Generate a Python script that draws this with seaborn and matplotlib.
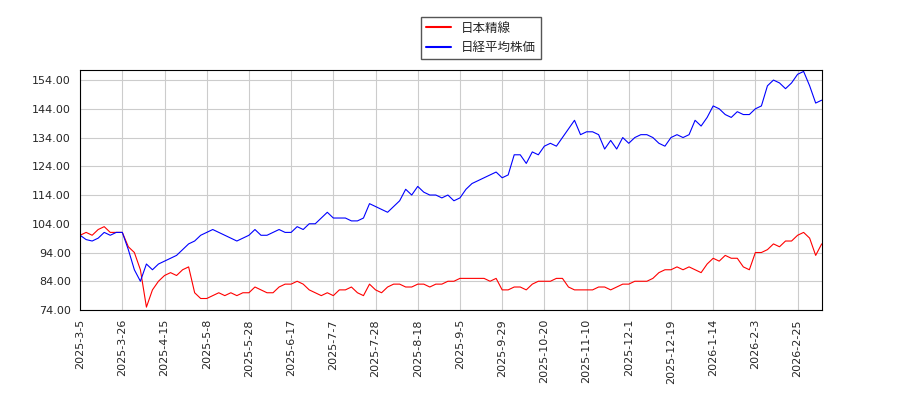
import numpy as np
import pandas as pd
import matplotlib
matplotlib.use("Agg")
import matplotlib.pyplot as plt
import seaborn as sns

tick_labels = ["2025-3-5","2025-3-26","2025-4-15","2025-5-8","2025-5-28","2025-6-17","2025-7-7",
               "2025-7-28","2025-8-18","2025-9-5","2025-9-29","2025-10-20","2025-11-10","2025-12-1",
               "2025-12-19","2026-1-14","2026-2-3","2026-2-25"]

nikkei = [100, 98.5, 98, 99, 101, 100, 101,
          101, 95, 88, 84, 90, 88, 90,
          91, 92, 93, 95, 97, 98, 100,
          101, 102, 101, 100, 99, 98, 99,
          100, 102, 100, 100, 101, 102, 101,
          101, 103, 102, 104, 104, 106, 108,
          106, 106, 106, 105, 105, 106, 111,
          110, 109, 108, 110, 112, 116, 114,
          117, 115, 114, 114, 113, 114, 112,
          113, 116, 118, 119, 120, 121, 122,
          120, 121, 128, 128, 125, 129, 128,
          131, 132, 131, 134, 137, 140, 135,
          136, 136, 135, 130, 133, 130, 134,
          132, 134, 135, 135, 134, 132, 131,
          134, 135, 134, 135, 140, 138, 141,
          145, 144, 142, 141, 143, 142, 142,
          144, 145, 152, 154, 153, 151, 153,
          156, 157, 152, 146, 147]

seisen = [100, 101, 100, 102, 103, 101, 101,
          101, 96, 94, 88, 75, 81, 84,
          86, 87, 86, 88, 89, 80, 78,
          78, 79, 80, 79, 80, 79, 80,
          80, 82, 81, 80, 80, 82, 83,
          83, 84, 83, 81, 80, 79, 80,
          79, 81, 81, 82, 80, 79, 83,
          81, 80, 82, 83, 83, 82, 82,
          83, 83, 82, 83, 83, 84, 84,
          85, 85, 85, 85, 85, 84, 85,
          81, 81, 82, 82, 81, 83, 84,
          84, 84, 85, 85, 82, 81, 81,
          81, 81, 82, 82, 81, 82, 83,
          83, 84, 84, 84, 85, 87, 88,
          88, 89, 88, 89, 88, 87, 90,
          92, 91, 93, 92, 92, 89, 88,
          94, 94, 95, 97, 96, 98, 98,
          100, 101, 99, 93, 97]

x = np.arange(len(nikkei)) * 2
df = pd.DataFrame({"x": np.concatenate([x, x]),
                   "v": seisen + nikkei,
                   "s": ["日本精線"] * len(seisen) + ["日経平均株価"] * len(nikkei)})

sns.set_style("white")
plt.rcParams['font.family'] = ['Noto Sans CJK JP', 'DejaVu Sans']
fig = plt.figure(figsize=(9, 4), dpi=100)
ax = fig.add_axes([0.089, 0.225, 0.824, 0.6])
sns.lineplot(data=df, x="x", y="v", hue="s", palette={"日本精線": "red", "日経平均株価": "blue"},
             linewidth=0.8, ax=ax)
ax.set_xlim(0, x[-1])
ax.set_ylim(74, 157.5)
ax.set_yticks(np.arange(74, 155, 10))
ax.set_yticklabels([f"{v:.2f}" for v in np.arange(74, 155, 10)], fontsize=8, family="DejaVu Sans")
ax.set_xticks(np.arange(len(tick_labels)) * 14)
ax.set_xticklabels(tick_labels, rotation=90, fontsize=8, family="DejaVu Sans")
ax.grid(True, color="#cccccc", linewidth=0.8)
for s in ax.spines.values():
    s.set_color("black")
ax.tick_params(direction="out", length=3, color="black")
ax.set_xlabel("")
ax.set_ylabel("")
leg = ax.legend(loc="lower center", bbox_to_anchor=(0.54, 1.02), fontsize=9,
                fancybox=False, edgecolor="#555555", framealpha=1)
for l in leg.get_lines():
    l.set_linewidth(1.5)
fig.savefig("out.png")
